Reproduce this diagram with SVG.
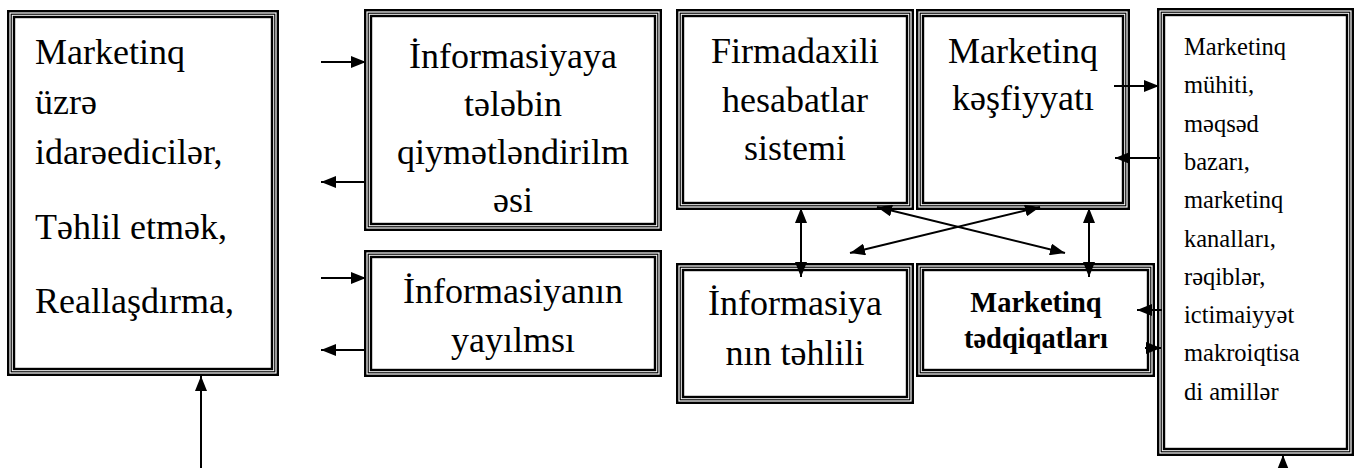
<svg xmlns="http://www.w3.org/2000/svg" width="1356" height="468" viewBox="0 0 1356 468">
<style>
.o{fill:none;stroke:#000;stroke-width:2.4}
.m{fill:none;stroke:#000;stroke-width:1.2}
.i{fill:none;stroke:#000;stroke-width:2.4}
.t{font-family:"Liberation Serif","Times New Roman",serif;font-size:36px;fill:#000}
.c{text-anchor:middle}
.s{font-size:24.5px}
.b{font-weight:bold;font-size:28.5px}
.ln{fill:none;stroke:#000;stroke-width:2}
</style>
<defs>
<marker id="ah" viewBox="0 0 15 12" refX="15" refY="6" markerWidth="15" markerHeight="12" markerUnits="userSpaceOnUse" orient="auto-start-reverse"><path d="M0,0 L15,6 L0,12 z" fill="#000"/></marker>
</defs>
<rect x="0" y="0" width="1356" height="468" fill="#fff"/>

<g id="node-managers">
<rect class="o" x="8.2" y="11.2" width="269.6" height="363.6"/>
<rect class="m" x="11.2" y="14.2" width="263.6" height="357.6"/>
<rect class="i" x="14" y="17" width="258" height="352"/>
<text class="t" x="35" y="64">Marketinq</text>
<text class="t" x="35" y="114">üzrə</text>
<text class="t" x="35" y="164">idarəedicilər,</text>
<text class="t" x="35" y="239">Təhlil etmək,</text>
<text class="t" x="35" y="313">Reallaşdırma,</text>
</g>

<g id="node-demand">
<rect class="o" x="365.2" y="10.2" width="295.6" height="219.6"/>
<rect class="m" x="368.2" y="13.2" width="289.6" height="213.6"/>
<rect class="i" x="371" y="16" width="284" height="208"/>
<text class="t c" x="513" y="68">İnformasiyaya</text>
<text class="t c" x="513" y="116">tələbin</text>
<text class="t c" x="513" y="164">qiymətləndirilm</text>
<text class="t c" x="513" y="212">əsi</text>
</g>

<g id="node-spread">
<rect class="o" x="365.2" y="251.2" width="295.6" height="124.6"/>
<rect class="m" x="368.2" y="254.2" width="289.6" height="118.6"/>
<rect class="i" x="371" y="257" width="284" height="113"/>
<text class="t c" x="513" y="303">İnformasiyanın</text>
<text class="t c" x="513" y="352">yayılmsı</text>
</g>

<g id="node-internal">
<rect class="o" x="677.2" y="10.2" width="235.6" height="198.6"/>
<rect class="m" x="680.2" y="13.2" width="229.6" height="192.6"/>
<rect class="i" x="683" y="16" width="224" height="187"/>
<text class="t c" x="795" y="63">Firmadaxili</text>
<text class="t c" x="795" y="112">hesabatlar</text>
<text class="t c" x="795" y="160">sistemi</text>
</g>

<g id="node-intelligence">
<rect class="o" x="917.2" y="10.2" width="211.6" height="198.6"/>
<rect class="m" x="920.2" y="13.2" width="205.6" height="192.6"/>
<rect class="i" x="923" y="16" width="200" height="187"/>
<text class="t c" x="1023" y="63">Marketinq</text>
<text class="t c" x="1023" y="110">kəşfiyyatı</text>
</g>

<g id="node-analysis">
<rect class="o" x="677.2" y="264.2" width="235.6" height="138.6"/>
<rect class="m" x="680.2" y="267.2" width="229.6" height="132.6"/>
<rect class="i" x="683" y="270" width="224" height="127"/>
<text class="t c" x="795" y="315">İnformasiya</text>
<text class="t c" x="795" y="365">nın təhlili</text>
</g>

<g id="node-research">
<rect class="o" x="917.2" y="264.2" width="236.6" height="111.6"/>
<rect class="m" x="920.2" y="267.2" width="230.6" height="105.6"/>
<rect class="i" x="923" y="270" width="225" height="100"/>
<text class="t b c" x="1036" y="312">Marketinq</text>
<text class="t b c" x="1036" y="348">tədqiqatları</text>
</g>

<g id="node-environment">
<rect class="o" x="1158.2" y="9.2" width="194.6" height="445.6"/>
<rect class="m" x="1161.2" y="12.2" width="188.6" height="439.6"/>
<rect class="i" x="1164" y="15" width="183" height="434"/>
<text class="t s" x="1184" y="55">Marketinq</text>
<text class="t s" x="1184" y="93.3">mühiti,</text>
<text class="t s" x="1184" y="131.6">məqsəd</text>
<text class="t s" x="1184" y="169.9">bazarı,</text>
<text class="t s" x="1184" y="208.2">marketinq</text>
<text class="t s" x="1184" y="246.5">kanalları,</text>
<text class="t s" x="1184" y="284.8">rəqiblər,</text>
<text class="t s" x="1184" y="323.1">ictimaiyyət</text>
<text class="t s" x="1184" y="361.4">makroiqtisa</text>
<text class="t s" x="1184" y="399.7">di amillər</text>
</g>

<g id="connectors">
<line class="ln" x1="321" y1="62" x2="366" y2="62" marker-end="url(#ah)"/>
<line class="ln" x1="366" y1="182" x2="321" y2="182" marker-end="url(#ah)"/>
<line class="ln" x1="321" y1="278" x2="366" y2="278" marker-end="url(#ah)"/>
<line class="ln" x1="366" y1="350" x2="321" y2="350" marker-end="url(#ah)"/>
<line class="ln" x1="201" y1="468" x2="201" y2="376" marker-end="url(#ah)"/>
<line class="ln" x1="801" y1="208" x2="801" y2="277" marker-start="url(#ah)" marker-end="url(#ah)"/>
<line class="ln" x1="1089" y1="208" x2="1089" y2="277" marker-start="url(#ah)" marker-end="url(#ah)"/>
<line class="ln" x1="877" y1="207" x2="1065" y2="253" marker-start="url(#ah)" marker-end="url(#ah)"/>
<line class="ln" x1="1040" y1="207" x2="850" y2="253" marker-start="url(#ah)" marker-end="url(#ah)"/>
<line class="ln" x1="1114" y1="86" x2="1159" y2="86" marker-end="url(#ah)"/>
<line class="ln" x1="1160" y1="158" x2="1115" y2="158" marker-end="url(#ah)"/>
<line class="ln" x1="1162" y1="310" x2="1137" y2="310" marker-end="url(#ah)"/>
<line class="ln" x1="1145" y1="348" x2="1161" y2="348" marker-end="url(#ah)"/>
<line class="ln" x1="1283" y1="468" x2="1283" y2="455" marker-end="url(#ah)"/>
</g>
</svg>
